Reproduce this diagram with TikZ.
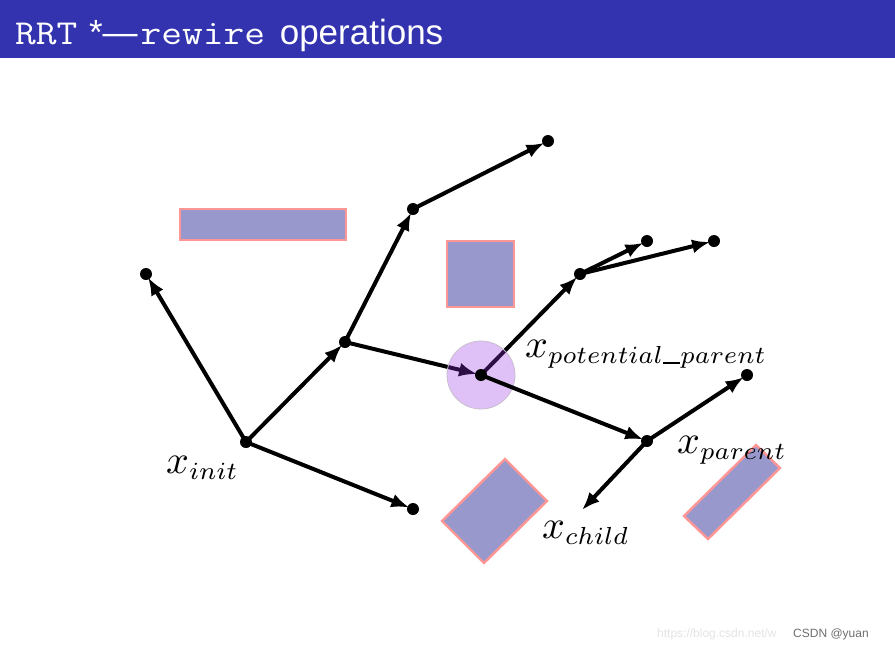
\documentclass[tikz,border=0pt]{standalone}
\usepackage{fontspec}
\newfontfamily\titlesans{Liberation Sans}
\usetikzlibrary{arrows.meta}
\definecolor{barblue}{RGB}{51,51,175}
\definecolor{obstfill}{RGB}{152,152,204}
\definecolor{obstline}{RGB}{255,150,150}
\definecolor{zonefill}{RGB}{155,50,230}
\newcommand{\monow}[1]{\scalebox{1.15}[1]{\ttfamily #1}}
\newcommand{\subx}[1]{\scalebox{4}{$x_{\scalebox{0.88}{$\scriptstyle #1$}}$}}
\newcommand{\usc}{\rule[-0.03em]{0.5em}{0.06em}}
\begin{document}
\begin{tikzpicture}[x=1pt,y=-1pt,
  edge/.style={line width=4pt,-{Latex[length=18pt,width=14pt]},shorten >=4pt},
  dot/.style={circle,fill=black,inner sep=0pt,minimum size=12pt},
  obst/.style={fill=obstfill,draw=obstline,line width=2.4pt,line join=miter},
  lab/.style={anchor=base west,inner sep=0pt},
  wm/.style={anchor=base west,inner sep=0pt,font=\titlesans\fontsize{12}{14}\selectfont}
]
\useasboundingbox (0,0) rectangle (895,649);
\fill[white] (0,0) rectangle (895,649);
% title bar
\fill[barblue] (0,0) rectangle (895,58);
\node[anchor=base west,inner sep=0pt,text=white,font=\titlesans\fontsize{35}{40}\selectfont] (title) at (15,44)
  {\monow{RRT}\hspace{2pt} *—\hspace{3pt}\monow{rewire}\hspace{5pt} operations};
% obstacles
\draw[obst] (180,209) rectangle (346,240);
\draw[obst] (447,241) rectangle (514,307);
\draw[obst] (505,459) -- (547,501) -- (484,563) -- (442,521) -- cycle;
\draw[obst] (756,445) -- (780,468) -- (708,539) -- (684,516) -- cycle;
% tree vertices
\coordinate (init) at (246,442);
\coordinate (A) at (146,274);
\coordinate (B) at (345,342);
\coordinate (C) at (413,509);
\coordinate (D) at (413,209);
\coordinate (E) at (548,141);
\coordinate (P) at (481,375);
\coordinate (F) at (580,274);
\coordinate (G) at (647,241);
\coordinate (H) at (714,241);
\coordinate (Q) at (647,441);
\coordinate (R) at (747,375);
\coordinate (child) at (582,510);
% edges under the neighbourhood disc
\draw[edge] (B) -- (P);
\draw[edge] (P) -- (F);
% neighbourhood disc
\node[circle,minimum size=68pt,inner sep=0pt,fill=zonefill,fill opacity=0.3,draw={rgb,255:red,200;green,190;blue,205},line width=0.8pt] (zone) at (P) {};
% other edges
\draw[edge] (init) -- (A);
\draw[edge] (init) -- (B);
\draw[edge] (init) -- (C);
\draw[edge] (B) -- (D);
\draw[edge] (D) -- (E);
\draw[edge] (F) -- (G);
\draw[edge] (F) -- (H);
\draw[edge] (P) -- (Q);
\draw[edge] (Q) -- (R);
\draw[edge,shorten >=0pt] (Q) -- (child);
% vertex dots
\foreach \v in {init,A,B,C,D,E,P,F,G,H,Q,R}
  \node[dot] (dot\v) at (\v) {};
% labels
\node[lab] (linit) at (166,473) {\subx{init}};
\node[lab] (lpp) at (525,357) {\subx{potential\usc parent}};
\node[lab] (lparent) at (677,453) {\subx{parent}};
\node[lab] (lchild) at (542,538) {\subx{child}};
% watermark
\node[wm,text={rgb,255:red,228;green,228;blue,228}] (wmurl) at (657,637) {https://blog.csdn.net/w};
\node[wm,text={rgb,255:red,110;green,110;blue,110}] (wmcsdn) at (793,637) {CSDN @yuan};
\end{tikzpicture}
\end{document}
